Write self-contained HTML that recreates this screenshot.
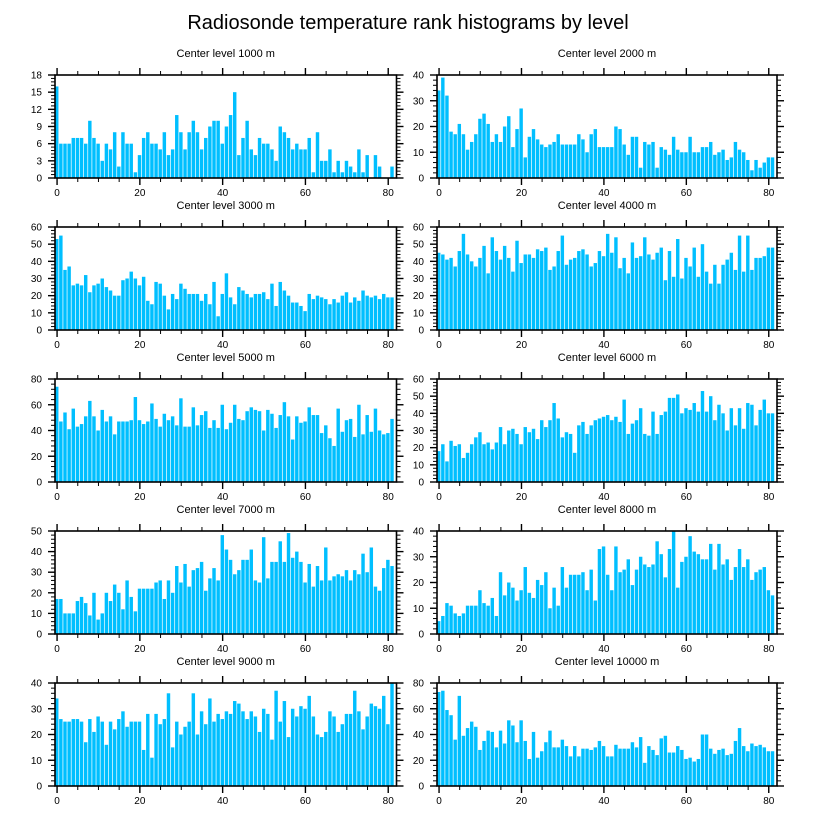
<!DOCTYPE html>
<html><head><meta charset="utf-8">
<style>
html,body{margin:0;padding:0;background:#fff;}
svg{display:block;font-family:"Liberation Sans",sans-serif;}
</style></head>
<body>
<svg id="chart" width="816" height="824" viewBox="0 0 816 824">
<text x="408" y="29" text-anchor="middle" font-size="20" fill="#000">Radiosonde temperature rank histograms by level</text>
</svg>
<script>
const levels = ["1000","2000","3000","4000","5000","6000","7000","8000","9000","10000"];
const yMaxes = [18,40,60,60,80,60,50,40,40,80];
const yMajorSteps = [3,10,10,10,20,10,10,10,10,20];
const xTickLabels = [0,20,40,60,80];
const v1000 = [16,6,6,6,7,7,7,6,10,7,6,3,6,5,8,2,8,6,6,1,4,7,8,6,6,5,8,4,5,11,8,5,8,10,8,5,7,9,10,10,6,9,11,15,4,7,10,5,4,7,6,6,5,3,9,8,7,5,6,5,5,7,1,8,3,3,5,1,3,1,3,2,1,5,1,4,0,4,2,0,0,2];
const v2000 = [34,39,32,18,17,21,17,11,14,17,23,25,21,14,17,14,20,24,12,19,27,8,16,19,15,13,12,13,14,17,13,13,13,13,17,15,10,17,19,12,12,12,12,20,19,13,9,16,16,4,14,13,14,4,12,11,9,16,11,10,10,16,10,10,12,12,14,9,10,11,7,8,14,11,10,7,3,7,4,6,8,8];
const v3000 = [53,55,35,37,26,27,26,32,22,26,27,30,25,23,20,20,29,30,34,30,26,31,17,15,28,27,20,12,21,18,27,24,21,21,21,17,21,15,28,8,21,33,19,15,25,23,21,19,21,21,22,18,27,14,28,23,20,16,16,14,11,21,18,20,19,18,15,18,16,20,22,16,19,17,23,20,19,20,18,21,19,19];
const v4000 = [45,44,41,42,37,46,56,44,40,37,42,49,33,54,46,41,49,42,34,52,39,44,44,42,47,46,48,35,37,46,55,38,41,42,46,47,44,37,39,46,43,56,45,54,36,42,33,51,42,43,54,44,41,45,48,29,46,31,53,30,42,37,48,31,50,34,27,38,27,38,41,45,35,55,34,55,35,42,42,43,48,48];
const v5000 = [74,47,54,41,57,43,45,51,63,51,40,56,47,51,37,47,47,47,48,66,48,45,47,61,49,43,53,48,51,44,65,43,43,58,44,52,55,42,48,42,60,41,46,60,49,48,55,58,56,55,40,56,53,42,52,62,51,33,51,46,47,58,52,52,38,44,34,28,57,39,48,49,35,60,37,52,39,57,40,37,38,49];
const v6000 = [18,22,12,24,21,22,14,17,22,26,29,22,23,19,23,32,22,30,31,28,22,32,29,31,25,36,32,36,46,37,26,29,28,17,33,35,28,33,36,37,38,39,36,38,35,48,28,34,36,43,28,27,41,28,39,41,49,49,51,40,43,42,46,41,53,41,50,36,45,40,30,43,33,43,31,46,45,33,42,48,40,40];
const v7000 = [17,17,10,10,10,16,18,15,9,20,7,10,20,16,24,20,12,26,18,11,22,22,22,22,25,26,17,26,20,33,25,34,23,31,32,35,21,27,32,26,48,41,36,29,31,36,36,41,26,25,47,27,35,35,45,35,49,37,40,35,25,34,23,33,26,42,26,28,29,28,31,26,31,29,39,30,42,23,21,32,36,33];
const v8000 = [5,7,12,11,8,7,8,11,11,11,17,12,11,14,7,24,15,20,18,13,17,26,16,14,21,19,24,10,18,11,26,18,23,23,23,24,17,25,13,33,34,23,17,34,24,25,29,19,25,30,27,26,27,36,31,22,33,40,18,28,30,38,32,31,29,29,35,25,35,27,29,21,26,33,26,29,21,24,25,26,17,15];
const v9000 = [34,26,25,25,26,26,25,17,26,21,27,25,16,25,22,26,29,23,25,25,25,14,28,11,28,24,26,36,15,25,20,23,25,36,20,29,24,34,25,28,26,29,28,33,32,29,26,29,27,21,30,28,18,37,25,33,19,30,27,31,30,35,27,20,19,21,29,27,21,24,28,28,37,29,22,27,32,31,30,35,24,40];
const v10000 = [73,74,59,55,36,70,39,45,50,46,28,35,43,42,30,43,33,51,47,34,51,35,21,42,22,27,34,43,30,30,36,31,23,31,23,29,29,28,30,35,31,23,23,32,29,29,29,34,30,38,18,31,28,24,37,39,26,26,31,28,21,22,19,21,40,40,29,25,28,29,24,25,35,45,31,27,33,31,32,30,27,27];
const seriesList = [v1000,v2000,v3000,v4000,v5000,v6000,v7000,v8000,v9000,v10000];

const NS = "http://www.w3.org/2000/svg";
const svg = document.getElementById("chart");
function mk(tag, attrs, parent) {
  const e = document.createElementNS(NS, tag);
  for (const k in attrs) e.setAttribute(k, attrs[k]);
  parent.appendChild(e);
  return e;
}
const X0 = -0.5, X1 = 82;
for (let p = 0; p < 10; p++) {
  const col = p % 2, row = Math.floor(p / 2);
  const L = col === 0 ? 55 : 437, R = col === 0 ? 396.5 : 777;
  const T = 75 + row * 152, B = T + 103;
  const vals = seriesList[p], ymax = yMaxes[p], step = yMajorSteps[p];
  const xs = v => L + (v - X0) / (X1 - X0) * (R - L);
  const ys = v => B - v / ymax * (B - T);
  const g = mk("g", {}, svg);
  
  
  const tt = mk("text", {x: (L + R) / 2, y: T - 18, "text-anchor": "middle", "font-size": "11", fill: "#000"}, g);
  tt.textContent = "Center level " + levels[p] + " m";
  
  
  for (let i = 0; i < vals.length; i++) {
    const x0 = xs(i - 0.5), x1 = xs(i + 0.5);
    const r = mk("rect", {x: x0, y: ys(vals[i]), width: Math.max(0, x1 - x0 - 0.7), height: B - ys(vals[i]), fill: "#00BFFF"}, g);
    
    
  }
  const frame = mk("rect", {x: L, y: T, width: R - L, height: B - T, fill: "none", stroke: "#000", "stroke-width": "1.6"}, g);
  
  
  // x ticks
  for (let v = 0; v <= 80; v += 5) {
    const major = v % 20 === 0, len = major ? 7 : 4, x = xs(v);
    mk("line", {x1: x, x2: x, y1: B, y2: B + len, stroke: "#000", "stroke-width": major ? 1.4 : 1}, g);
    mk("line", {x1: x, x2: x, y1: T, y2: T - len, stroke: "#000", "stroke-width": major ? 1.4 : 1}, g);
  }
  for (const lv of xTickLabels) {
    const t = mk("text", {x: xs(lv), y: B + 18, "text-anchor": "middle", "font-size": "10", fill: "#000"}, g);
    t.textContent = lv;
    
    
  }
  // y ticks
  const minor = step / 5;
  for (let k = 0; k <= Math.round(ymax / minor); k++) {
    const v = k * minor, y = ys(v), major = k % 5 === 0, len = major ? 7 : 4;
    mk("line", {x1: L, x2: L - len, y1: y, y2: y, stroke: "#000", "stroke-width": major ? 1.4 : 1}, g);
    mk("line", {x1: R, x2: R + len, y1: y, y2: y, stroke: "#000", "stroke-width": major ? 1.4 : 1}, g);
  }
  for (let v = 0; v <= ymax; v += step) {
    const t = mk("text", {x: L - 13, y: ys(v) + 3.5, "text-anchor": "end", "font-size": "10", fill: "#000"}, g);
    t.textContent = v;
    
    
  }
}
</script>
</body></html>
